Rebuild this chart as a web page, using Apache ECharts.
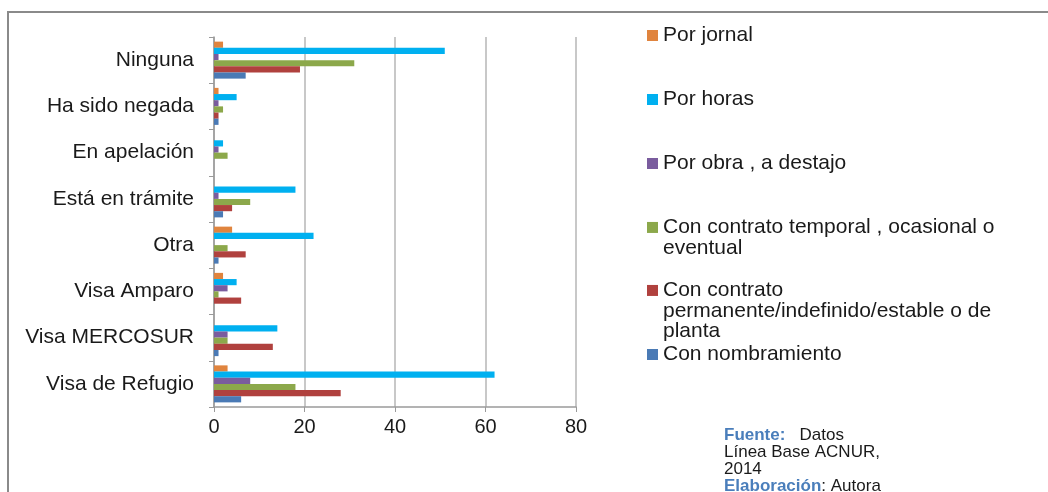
<!DOCTYPE html>
<html>
<head>
<meta charset="utf-8">
<script src="https://cdn.jsdelivr.net/npm/echarts@6/dist/echarts.min.js"></script>
<style>
html,body{margin:0;padding:0;background:#fff;}
#chart{width:1048px;height:492px;}
</style>
</head>
<body>
<div id="chart"></div>
<script>
// Categories (top to bottom)
const categories = ['Ninguna','Ha sido negada','En apelación','Está en trámite','Otra','Visa Amparo','Visa MERCOSUR','Visa de Refugio'];
// Series names (legend order)
const seriesNames = [
  'Por jornal',
  'Por horas',
  'Por obra , a destajo',
  'Con contrato temporal , ocasional o eventual',
  'Con contrato permanente/indefinido/estable o de planta',
  'Con nombramiento'
];
// Values per series, in category order above
const porJornal      = [2, 1, 0, 0, 4, 2, 0, 3];
const porHoras       = [51, 5, 2, 18, 22, 5, 14, 62];
const porObra        = [1, 1, 1, 1, 0, 3, 3, 8];
const conTemporal    = [31, 2, 3, 8, 3, 1, 3, 18];
const conPermanente  = [19, 1, 0, 4, 7, 6, 13, 28];
const conNombramiento= [7, 1, 0, 2, 1, 0, 1, 6];
const xTicks = [0, 20, 40, 60, 80];

const seriesValues = [porJornal, porHoras, porObra, conTemporal, conPermanente, conNombramiento];
const colors = ['#E0843E', '#00B0F0', '#7A5C9E', '#8CA84B', '#B0413E', '#4A7AB5'];
const legendLabels = [
  'Por jornal',
  'Por horas',
  'Por obra , a destajo',
  'Con contrato temporal , ocasional o\neventual',
  'Con contrato\npermanente/indefinido/estable o de\nplanta',
  'Con nombramiento'
];
const legendTops = [25, 89, 153, 217, 280, 344];
const legendLines = [1, 1, 1, 2, 3, 1];
const FONT = 'Liberation Sans, Arial, sans-serif';

const chart = echarts.init(document.getElementById('chart'));

const legends = seriesNames.map((name, i) => {
  const h = legendLines[i] * 20.5;
  const icon = legendLines[i] === 1 ? 'rect'
    : 'path://M0,0 M0,' + h + ' M0,4.7 L11,4.7 L11,15.7 L0,15.7 Z';
  return {
    data: [name],
    left: 647,
    top: legendTops[i],
    orient: 'vertical',
    icon: icon,
    itemWidth: 11,
    itemHeight: legendLines[i] === 1 ? 11 : h,
    itemGap: 0,
    padding: 0,
    selectedMode: false,
    formatter: () => legendLabels[i],
    textStyle: { fontFamily: FONT, fontSize: 21, lineHeight: 20.5, color: '#1a1a1a' }
  };
});

const option = {
  backgroundColor: '#fff',
  animation: false,
  color: colors,
  legend: legends,
  grid: { left: 214, top: 37, width: 362, height: 370, containLabel: false },
  xAxis: {
    type: 'value', min: 0, max: 80, interval: 20,
    axisLine: { show: true, lineStyle: { color: '#9a9a9a', width: 1.5 } },
    axisTick: { show: true, length: 5, lineStyle: { color: '#9a9a9a' } },
    splitLine: { show: true, lineStyle: { color: '#c8c8c8', width: 2 } },
    axisLabel: { margin: 10, fontFamily: FONT, fontSize: 20, color: '#1a1a1a',
      formatter: v => xTicks.includes(v) ? String(v) : '' }
  },
  yAxis: {
    type: 'category', data: categories, inverse: true,
    axisLine: { show: true, lineStyle: { color: '#9a9a9a', width: 1.5 } },
    axisTick: { show: true, length: 5, lineStyle: { color: '#9a9a9a' } },
    axisLabel: { margin: 20, fontFamily: FONT, fontSize: 21, color: '#1a1a1a' }
  },
  series: seriesNames.map((name, i) => ({
    name: name,
    type: 'bar',
    data: seriesValues[i],
    barGap: '0%',
    barCategoryGap: '20%',
    itemStyle: { color: colors[i] }
  })),
  graphic: [
    {
      type: 'polyline',
      shape: { points: [[8, 492], [8, 12], [1048, 12]] },
      style: { stroke: '#8a8a8a', lineWidth: 2, fill: null },
      silent: true
    },
    {
      type: 'text', left: 724, top: 427,
      style: {
        text: '{b|Fuente:}   Datos\nLínea Base ACNUR,\n2014\n{b|Elaboración}: Autora',
        font: '17px Liberation Sans, Arial, sans-serif',
        fill: '#1a1a1a',
        lineHeight: 17,
        rich: { b: { fontWeight: 'bold', fill: '#4A7EBB', fontSize: 17, fontFamily: FONT, lineHeight: 17 } }
      },
      silent: true
    }
  ]
};
chart.setOption(option);
</script>
</body>
</html>
